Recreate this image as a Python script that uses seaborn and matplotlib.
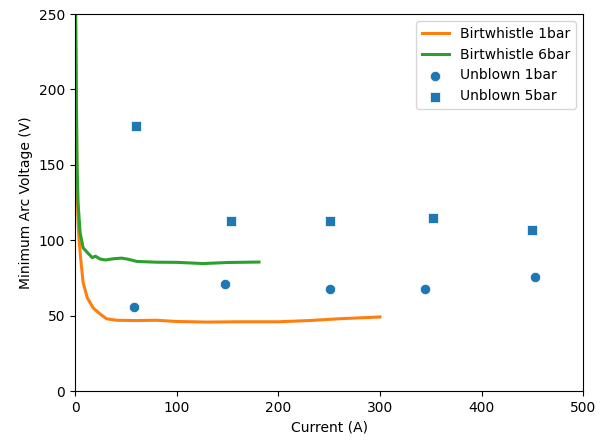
import numpy as np
import pandas as pd
import matplotlib
matplotlib.use("Agg")
import matplotlib.pyplot as plt
import seaborn as sns

# Birtwhistle curves
bw1_current = [0.5, 1, 2, 3, 4, 6, 8, 12, 18, 25, 31, 41, 60, 80, 100, 130, 160, 200, 230, 260, 300]
bw1_voltage = [260, 200, 135, 112, 100, 85, 72, 62, 55, 51, 48, 47, 46.8, 47, 46.2, 45.8, 46, 46, 46.8, 48, 49.2]
bw6_current = [0.5, 1, 2, 3, 5, 8, 12, 17, 20, 25, 30, 38, 46, 52, 61, 80, 100, 126, 150, 181]
bw6_voltage = [260, 220, 150, 125, 105, 95, 92, 88.5, 89.5, 87.5, 87, 87.8, 88.2, 87.5, 86, 85.5, 85.4, 84.6, 85.3, 85.6]

# Unblown measurements
ub1_current = [58, 148, 251, 344, 453]
ub1_voltage = [56, 71, 68, 68, 75.5]
ub5_current = [60, 153, 251, 352, 450]
ub5_voltage = [175.5, 113, 113, 115, 107]

fig = plt.figure(figsize=(6.05, 4.4), dpi=100)
ax = fig.add_axes([0.124, 0.111, 0.84, 0.857])

sns.lineplot(x=bw1_current, y=bw1_voltage, ax=ax, color="C1", lw=2.2,
             sort=False, estimator=None, label="Birtwhistle 1bar")
sns.lineplot(x=bw6_current, y=bw6_voltage, ax=ax, color="C2", lw=2.2,
             sort=False, estimator=None, label="Birtwhistle 6bar")
sns.scatterplot(x=ub1_current, y=ub1_voltage, ax=ax, color="C0", marker="o",
                s=55, linewidth=0.5, edgecolor="white", label="Unblown 1bar")
sns.scatterplot(x=ub5_current, y=ub5_voltage, ax=ax, color="C0", marker="s",
                s=48, linewidth=0.5, edgecolor="white", label="Unblown 5bar")

ax.set_xlim(0, 500)
ax.set_ylim(0, 250)
ax.set_xlabel("Current (A)")
ax.set_ylabel("Minimum Arc Voltage (V)")
ax.legend(loc="upper right")

fig.savefig("out.png", dpi=100)
